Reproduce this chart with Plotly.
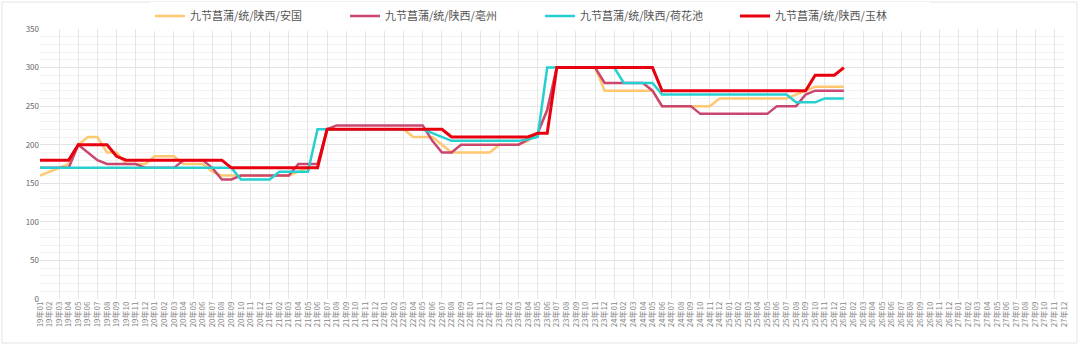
import plotly.graph_objects as go

# Month labels 19年01 .. 27年12
MONTHS = [f"{y:02d}年{m:02d}" for y in range(19, 28) for m in range(1, 13)]

SERIES_NAMES = [
    "九节菖蒲/统/陕西/安国",
    "九节菖蒲/统/陕西/亳州",
    "九节菖蒲/统/陕西/荷花池",
    "九节菖蒲/统/陕西/玉林",
]

# Monthly prices from 19年01 to 26年01
ANGUO = [
    160, 165, 170, 175, 200, 210, 210, 190, 190, 175, 175, 175,
    185, 185, 185, 175, 175, 175, 165, 160, 160, 160, 160, 160,
    160, 160, 160, 165, 170, 170, 220, 220, 220, 220, 220, 220,
    220, 220, 220, 210, 210, 210, 200, 190, 190, 190, 190, 190,
    200, 200, 200, 205, 215, 245, 300, 300, 300, 300, 300, 270,
    270, 270, 270, 270, 270, 250, 250, 250, 250, 250, 250, 260,
    260, 260, 260, 260, 260, 260, 260, 265, 270, 275, 275, 275,
    275,
]
BOZHOU = [
    170, 170, 170, 170, 200, 190, 180, 175, 175, 175, 175, 170,
    170, 170, 170, 180, 180, 180, 170, 155, 155, 160, 160, 160,
    160, 160, 160, 175, 175, 175, 220, 225, 225, 225, 225, 225,
    225, 225, 225, 225, 225, 205, 190, 190, 200, 200, 200, 200,
    200, 200, 200, 207, 215, 245, 300, 300, 300, 300, 300, 280,
    280, 280, 280, 280, 270, 250, 250, 250, 250, 240, 240, 240,
    240, 240, 240, 240, 240, 250, 250, 250, 265, 270, 270, 270,
    270,
]
HEHUACHI = [
    170, 170, 170, 170, 170, 170, 170, 170, 170, 170, 170, 170,
    170, 170, 170, 170, 170, 170, 170, 170, 170, 155, 155, 155,
    155, 165, 165, 165, 165, 220, 220, 220, 220, 220, 220, 220,
    220, 220, 220, 220, 220, 215, 210, 205, 205, 205, 205, 205,
    205, 205, 205, 207, 210, 300, 300, 300, 300, 300, 300, 300,
    300, 280, 280, 280, 280, 265, 265, 265, 265, 265, 265, 265,
    265, 265, 265, 265, 265, 265, 265, 255, 255, 255, 260, 260,
    260,
]
YULIN = [
    180, 180, 180, 180, 200, 200, 200, 200, 185, 180, 180, 180,
    180, 180, 180, 180, 180, 180, 180, 180, 170, 170, 170, 170,
    170, 170, 170, 170, 170, 170, 220, 220, 220, 220, 220, 220,
    220, 220, 220, 220, 220, 220, 220, 210, 210, 210, 210, 210,
    210, 210, 210, 210, 215, 215, 300, 300, 300, 300, 300, 300,
    300, 300, 300, 300, 300, 270, 270, 270, 270, 270, 270, 270,
    270, 270, 270, 270, 270, 270, 270, 270, 270, 290, 290, 290,
    300,
]

COLORS = ["#FFC870", "#C9476F", "#26CFD0", "#E8000F"]
WIDTHS = [2.5, 2.5, 2.5, 3]

fig = go.Figure()

# Empty helper trace so the grid-only axis (every second month) gets drawn
fig.add_trace(go.Scatter(x=[], y=[], xaxis="x2", yaxis="y",
                         showlegend=False, hoverinfo="skip"))

for name, vals, color, width in zip(SERIES_NAMES, [ANGUO, BOZHOU, HEHUACHI, YULIN], COLORS, WIDTHS):
    fig.add_trace(go.Scatter(
        x=MONTHS[:len(vals)], y=vals, name=name, mode="lines",
        line=dict(color=color, width=width),
        hoverinfo="skip",
    ))

FONT = "Noto Sans CJK SC, Noto Sans, sans-serif"

fig.update_layout(
    width=1080, height=350,
    margin=dict(l=40, r=16, t=29, b=51, autoexpand=False),
    paper_bgcolor="white", plot_bgcolor="white",
    font=dict(family=FONT, color="#666"),
    showlegend=True,
    legend=dict(
        orientation="h", xref="container", yref="container",
        x=0.5, xanchor="center", y=1 - 16 / 350, yanchor="middle",
        font=dict(size=11, color="#555"),
        entrywidth=150, entrywidthmode="pixels",
        itemwidth=30,
    ),
    xaxis=dict(
        type="category", categoryorder="array", categoryarray=MONTHS,
        range=[0, len(MONTHS) - 1],
        tickmode="array", tickvals=MONTHS, ticktext=MONTHS,
        tickangle=-90, tickfont=dict(size=8, color="#888"),
        showgrid=False, zeroline=False, showline=False, ticks="",
    ),
    xaxis2=dict(
        overlaying="x", anchor="y", type="linear",
        range=[0, len(MONTHS) - 1], tick0=0, dtick=2,
        showticklabels=False, showgrid=True, gridcolor="#e6e6e6",
        gridwidth=1, zeroline=False, showline=False, ticks="",
    ),
    yaxis=dict(
        range=[0, 350], dtick=50, tick0=0,
        tickfont=dict(size=8, color="#666"),
        showgrid=True, gridcolor="#e2e2e2", gridwidth=1,
        minor=dict(dtick=10, showgrid=True, gridcolor="#f3f3f3", gridwidth=1),
        zeroline=False, showline=False, ticks="",
    ),
    shapes=[dict(
        type="rect", xref="paper", yref="paper",
        x0=(2 - 40) / 1024, x1=(1077 - 40) / 1024,
        y0=(299 - 343) / 270, y1=(299 - 2) / 270,
        line=dict(color="#e3e3e3", width=1), fillcolor="rgba(0,0,0,0)",
        layer="below",
    )],
)

fig.write_html("out.html")
